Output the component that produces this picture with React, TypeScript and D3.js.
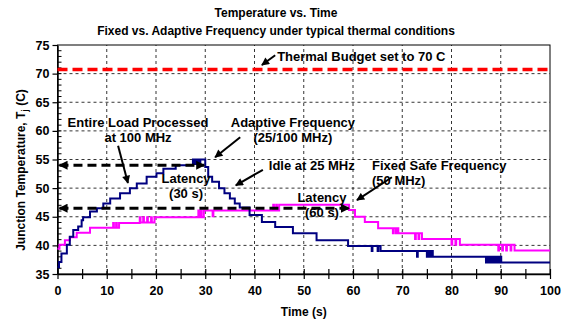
import React, { useRef, useEffect } from 'react';
import * as d3 from 'd3';

// [time (s), junction temperature (C)] — step data
const adaptiveSeries: [number, number][] = [
	[0, 36.2], [0.3, 37.1], [0.8, 38.6], [1.9, 40.1], [2.5, 41.5], [3.2, 42.7], [4.2, 43.3],
	[4.9, 44.4], [5.2, 44.9], [6.6, 45.9], [8, 46.5], [9.3, 47.3], [10.7, 48.2], [12.7, 49.1],
	[14.7, 50.0], [16.1, 50.8], [18.1, 52.0], [20.1, 52.6], [21.5, 53.4], [24, 54.0],
	[27.5, 55.0], [27.9, 54.2], [28.2, 55.0], [28.6, 54.2], [29, 55.0], [30, 53.7],
	[30.6, 52.0], [31.4, 51.1], [32.8, 50.0], [33.9, 49.1], [35, 48.2], [36, 47.3],
	[37, 46.6], [39, 45.3], [41.5, 44.1], [44.2, 43.2], [47.8, 42.1], [52.6, 40.9],
	[59, 39.9], [63.8, 39.0], [63.95, 39.9], [65, 39.0], [65.15, 39.9], [65.6, 39.0],
	[73, 38.0], [73.15, 39.0], [75, 38.0], [75.3, 39.0], [75.6, 38.0], [75.9, 39.0], [76.2, 38.0],
	[87, 37.0], [87.3, 38.0], [87.7, 37.0], [88.1, 38.0], [88.5, 37.0], [88.9, 38.0],
	[89.3, 37.0], [89.7, 38.0], [90.1, 37.0], [100, 37.0],
];

const fixedSeries: [number, number][] = [
	[0, 39.4], [0.4, 40.1], [1.5, 40.9], [2.5, 41.4], [3.9, 42.2], [6.6, 43.1],
	[11.3, 43.9], [11.45, 43.1], [11.9, 43.9], [12.05, 43.1], [12.5, 43.9],
	[16.7, 44.9], [16.85, 44.0], [17.4, 44.9], [17.55, 44.0], [18.2, 44.9], [18.35, 44.0],
	[19.0, 44.9], [19.15, 44.0], [19.7, 44.9],
	[28.6, 46.1], [28.75, 44.9], [29.1, 46.1], [29.25, 44.9], [29.7, 46.1], [31.5, 45.1], [31.65, 46.1],
	[43.8, 47.1], [43.95, 46.1], [44.4, 47.1], [44.55, 46.1], [45.0, 47.1],
	[59.2, 46.2], [60.4, 45.0], [62.4, 44.1], [65.1, 43.0],
	[68.1, 42.1], [68.25, 43.0], [68.7, 42.1], [68.85, 43.0], [69.2, 42.1],
	[72.6, 41.1], [72.75, 42.1], [73.3, 41.1], [73.45, 42.1], [74, 41.1],
	[80, 40.1], [80.15, 41.1], [80.8, 40.1], [80.95, 41.1], [81.7, 40.1],
	[89.5, 39.1], [89.65, 40.1], [90.3, 39.1], [90.45, 40.1], [91.1, 39.1], [91.25, 40.1],
	[92, 39.1], [92.15, 40.1], [92.8, 39.1], [100, 39.1],
];

const budgetTemp = 70.7;
const latencyTemps = [54.0, 46.5];
const latencyEnds = [29.8, 59.2];

const xTicks = [0, 10, 20, 30, 40, 50, 60, 70, 80, 90, 100];
const yTicks = [35, 40, 45, 50, 55, 60, 65, 70, 75];

const chartTitle = ['Temperature vs. Time', 'Fixed vs. Adaptive Frequency under typical thermal conditions'];

interface Note {
	lines: string[];
	x: number;
	y: number;
	anchor: string;
	from?: [number, number];
	to?: [number, number];
}

// annotation anchors in data units
const notes: Note[] = [
	{ lines: ['Thermal Budget set to 70 C'], x: 44.6, y: 72.2, anchor: 'start', from: [44.2, 73.2], to: [41.5, 71.5] },
	{ lines: ['Entire Load Processed', 'at 100 MHz'], x: 16.35, y: 60.76, anchor: 'middle', from: [12.3, 57.4], to: [14.3, 50.9] },
	{ lines: ['Adaptive Frequency', '(25/100 MHz)'], x: 47.8, y: 60.76, anchor: 'middle', from: [37.1, 58.9], to: [32.0, 55.4] },
	{ lines: ['Idle at 25 MHz'], x: 42.9, y: 53.25, anchor: 'start', from: [41.7, 53.2], to: [36.2, 50.5] },
	{ lines: ['Latency', '(30 s)'], x: 26.1, y: 50.81, anchor: 'middle' },
	{ lines: ['Latency', '(60 s)'], x: 53.7, y: 47.49, anchor: 'middle' },
	{ lines: ['Fixed Safe Frequency', '(50 MHz)'], x: 63.86, y: 53.25, anchor: 'start', from: [67.9, 51.9], to: [60.8, 47.9] },
];

const width = 572;
const height = 322;
const marginTop = 45;
const marginRight = 22;
const marginBottom = 48;
const marginLeft = 57.5;
const font = '"Liberation Sans", Arial, sans-serif';

const App: React.FC = () => {
	const svgRef = useRef<SVGSVGElement | null>(null);

	useEffect(() => {
		if (!svgRef.current) return;
		const svg = d3.select(svgRef.current);
		svg.selectAll('*').remove();

		const x = d3.scaleLinear().domain([0, 100]).range([marginLeft, width - marginRight]);
		const y = d3.scaleLinear().domain([35, 75]).range([height - marginBottom, marginTop]);

		const defs = svg.append('defs');
		const addHead = (id: string, w: number, h: number) => defs.append('marker')
			.attr('id', id)
			.attr('viewBox', '0 0 10 10')
			.attr('refX', 9)
			.attr('refY', 5)
			.attr('markerUnits', 'userSpaceOnUse')
			.attr('markerWidth', w)
			.attr('markerHeight', h)
			.attr('orient', 'auto-start-reverse')
			.append('path')
			.attr('d', 'M0,0L10,5L0,10z')
			.attr('fill', '#000');
		addHead('head', 9, 8);
		addHead('headDash', 9, 9);

		// grid lines
		svg.append('g')
			.selectAll('line')
			.data(yTicks.filter(d => d > 35 && d < 75))
			.join('line')
			.attr('x1', x(0)).attr('x2', x(100))
			.attr('y1', d => y(d)).attr('y2', d => y(d))
			.attr('stroke', '#000').attr('stroke-width', 0.8).attr('stroke-dasharray', '3,3');
		svg.append('g')
			.selectAll('line')
			.data(xTicks.filter(d => d > 0 && d < 100))
			.join('line')
			.attr('x1', d => x(d)).attr('x2', d => x(d))
			.attr('y1', y(35)).attr('y2', y(75))
			.attr('stroke', '#000').attr('stroke-width', 0.8).attr('stroke-dasharray', '3,3');

		// plot frame
		svg.append('rect')
			.attr('x', x(0)).attr('y', y(75))
			.attr('width', x(100) - x(0)).attr('height', y(35) - y(75))
			.attr('fill', 'none').attr('stroke', '#000').attr('stroke-width', 1);

		// x-axis
		svg.append('g')
			.attr('transform', `translate(0,${y(35)})`)
			.call(d3.axisBottom(x).tickValues(d3.range(0, 101, 5)).tickSize(5).tickSizeOuter(0).tickPadding(7.5)
				.tickFormat(d => (+d % 10 === 0 ? String(d) : '')))
			.attr('font-family', font).attr('font-size', 12.5).attr('font-weight', 'bold')
			.call(g => g.select('.domain').attr('stroke-width', 1.5))
			.call(g => g.selectAll('.tick line').attr('y1', -5).attr('stroke-width', 1.2))
			.call(g => g.selectAll('.tick text').attr('fill', '#000'));

		// y-axis with inside minor ticks
		svg.append('g')
			.attr('transform', `translate(${x(0)},0)`)
			.call(d3.axisLeft(y).tickValues(yTicks).tickSize(5).tickSizeOuter(0).tickPadding(3))
			.attr('font-family', font).attr('font-size', 12.5).attr('font-weight', 'bold')
			.call(g => g.select('.domain').attr('stroke-width', 1.5))
			.call(g => g.selectAll('.tick line').attr('stroke-width', 1.2))
			.call(g => g.selectAll('.tick text').attr('fill', '#000'))
			.call(g => g.append('g')
				.selectAll('line')
				.data(d3.range(36, 75))
				.join('line')
				.attr('x1', 0).attr('x2', 4)
				.attr('y1', d => y(d)).attr('y2', d => y(d))
				.attr('stroke', '#000').attr('stroke-width', 1));

		// thermal budget
		svg.append('line')
			.attr('x1', x(0)).attr('x2', x(100))
			.attr('y1', y(budgetTemp)).attr('y2', y(budgetTemp))
			.attr('stroke', '#ff0000').attr('stroke-width', 3.5).attr('stroke-dasharray', '10,5');

		const line = d3.line<[number, number]>()
			.x(d => x(d[0]))
			.y(d => y(d[1]))
			.curve(d3.curveStepAfter);

		svg.append('path')
			.attr('fill', 'none')
			.attr('stroke', '#ff00ff')
			.attr('stroke-width', 2)
			.attr('d', line(fixedSeries));

		svg.append('path')
			.attr('fill', 'none')
			.attr('stroke', '#000080')
			.attr('stroke-width', 2)
			.attr('d', line(adaptiveSeries));

		// latency arrows
		svg.append('g')
			.selectAll('line')
			.data(latencyTemps)
			.join('line')
			.attr('x1', x(0.4)).attr('x2', (d, i) => x(latencyEnds[i]))
			.attr('y1', d => y(d)).attr('y2', d => y(d))
			.attr('stroke', '#000').attr('stroke-width', 3).attr('stroke-dasharray', '9,5')
			.attr('marker-start', 'url(#headDash)')
			.attr('marker-end', 'url(#headDash)');

		// annotations
		const ann = svg.append('g')
			.attr('font-family', font).attr('font-size', 13).attr('font-weight', 'bold');
		notes.forEach(n => {
			const t = ann.append('text')
				.attr('x', x(n.x)).attr('y', y(n.y))
				.attr('text-anchor', n.anchor);
			n.lines.forEach((s, i) => {
				t.append('tspan').attr('x', x(n.x)).attr('dy', i === 0 ? 0 : 15).text(s);
			});
			if (n.from && n.to) {
				ann.append('line')
					.attr('x1', x(n.from[0])).attr('y1', y(n.from[1]))
					.attr('x2', x(n.to[0])).attr('y2', y(n.to[1]))
					.attr('stroke', '#000').attr('stroke-width', 2)
					.attr('marker-end', 'url(#head)');
			}
		});

		// titles
		svg.append('g')
			.attr('font-family', font).attr('font-size', 12).attr('font-weight', 'bold')
			.attr('text-anchor', 'middle')
			.selectAll('text')
			.data(chartTitle)
			.join('text')
			.attr('x', 276)
			.attr('y', (d, i) => 17 + i * 18)
			.text(d => d);

		svg.append('text')
			.attr('x', (x(0) + x(100)) / 2).attr('y', 316)
			.attr('text-anchor', 'middle')
			.attr('font-family', font).attr('font-size', 12).attr('font-weight', 'bold')
			.text('Time (s)');

		const yl = svg.append('text')
			.attr('transform', `translate(25,${170}) rotate(-90)`)
			.attr('text-anchor', 'middle')
			.attr('font-family', font).attr('font-size', 12).attr('font-weight', 'bold');
		yl.append('tspan').text('Junction Temperature, T');
		yl.append('tspan').attr('font-size', 9).attr('dy', 3).text('j');
		yl.append('tspan').attr('dy', -3).text(' (C)');

		return () => { svg.selectAll('*').remove(); };
	}, []);

	return (
		<svg
			ref={svgRef}
			width={width}
			height={height}
			style={{ position: 'absolute', left: 0, top: 0, background: '#fff' }}
		/>
	);
};

export default App;
